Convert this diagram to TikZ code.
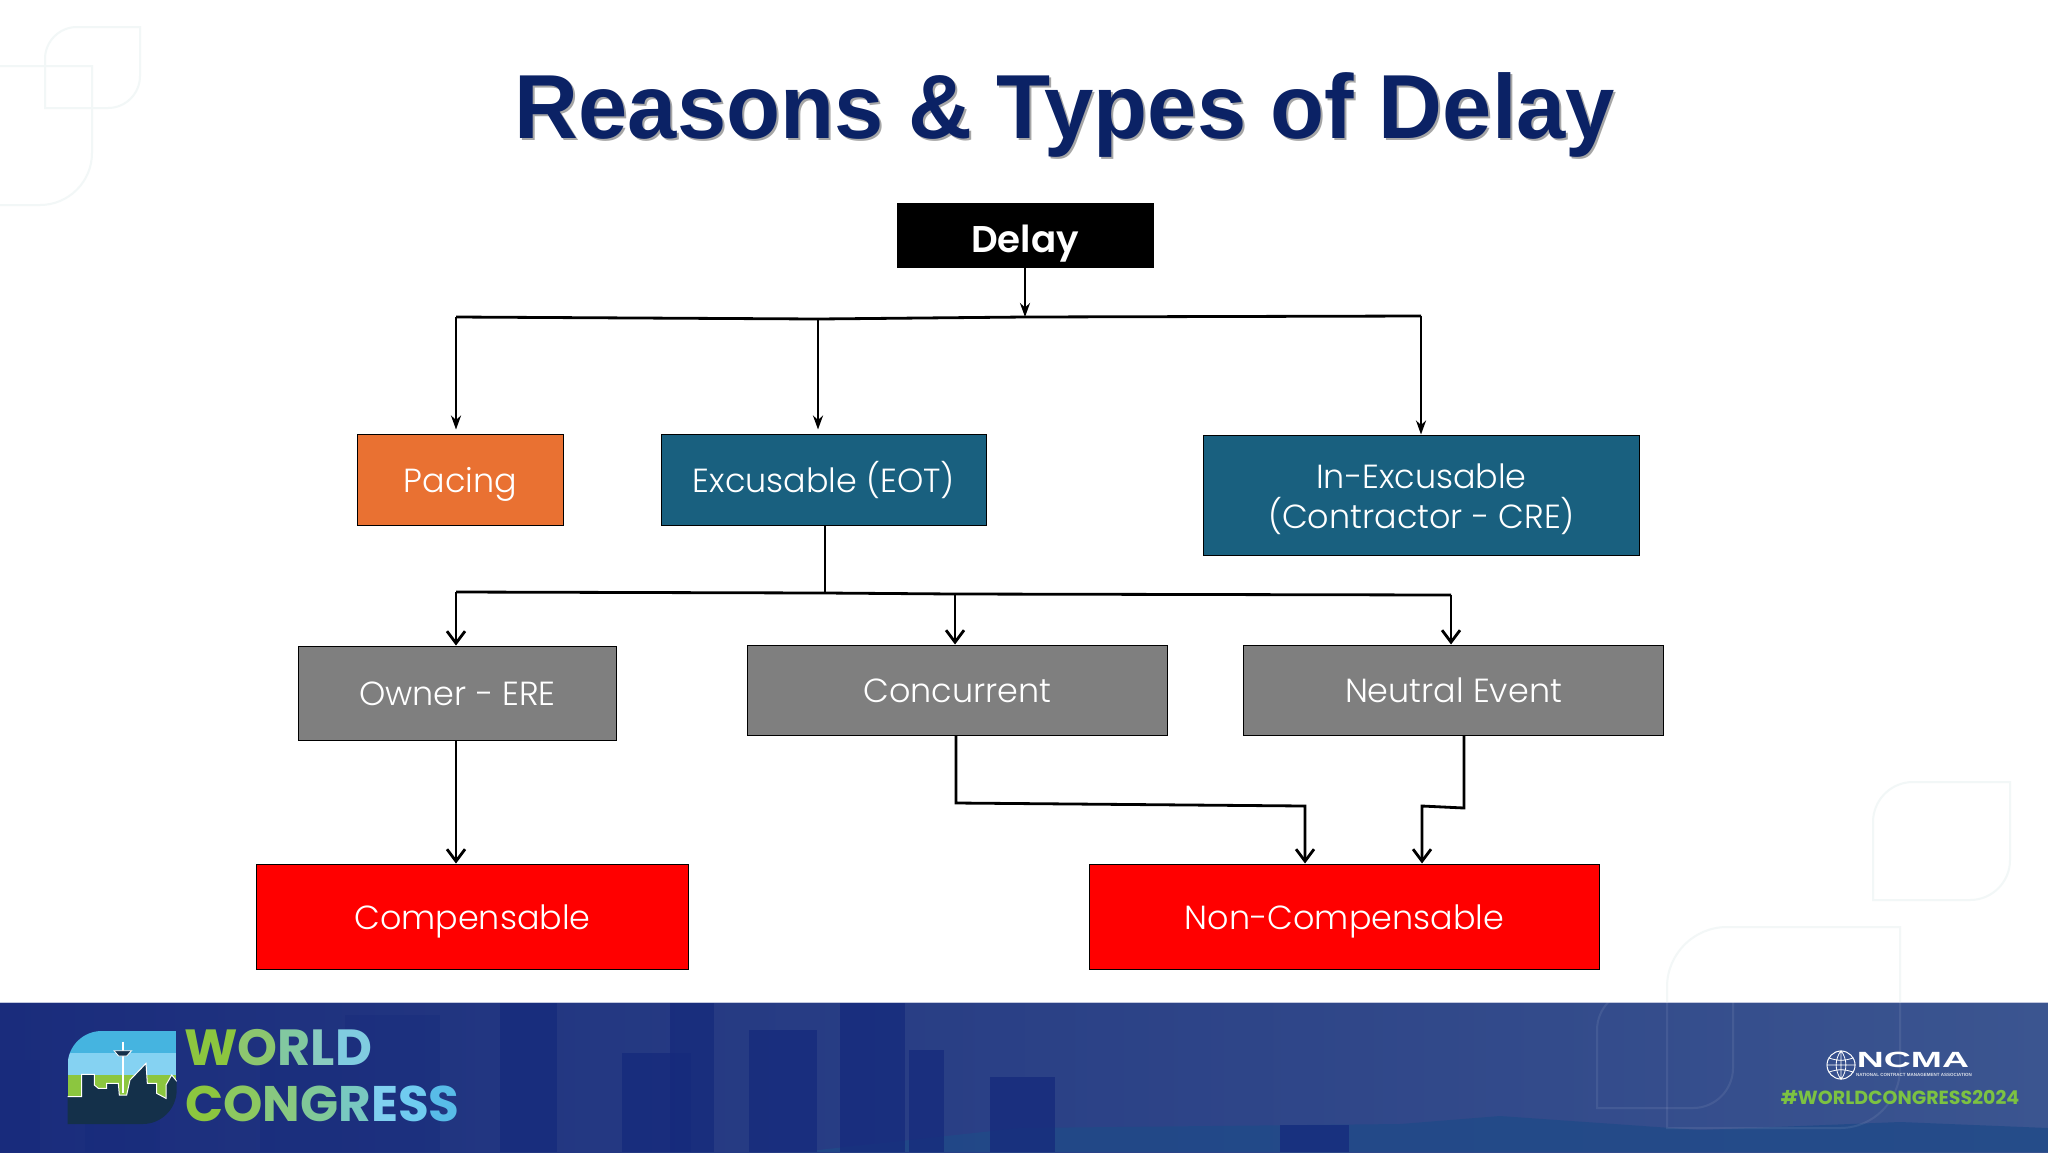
\documentclass[tikz,border=0pt]{standalone}
\usepackage{fontspec}
\usetikzlibrary{arrows.meta}
\setmainfont{Poppins}[UprightFont=* Light,BoldFont=* SemiBold]
\newfontfamily\titlefont{Liberation Sans}[BoldFont=* Bold]
\newfontfamily\logofont{Poppins}[UprightFont=* Bold]
\definecolor{navy}{HTML}{0B2265}
\definecolor{teal}{HTML}{19607F}
\definecolor{pace}{HTML}{E97132}
\definecolor{slate}{HTML}{7F7F7F}
\definecolor{ncmagreen}{HTML}{7CC242}
\definecolor{tower}{HTML}{152A7C}
\definecolor{footl}{HTML}{1A2C7C}
\definecolor{footm}{HTML}{2F4590}
\definecolor{footr}{HTML}{3B5590}
\definecolor{footb}{HTML}{204A88}
\definecolor{leafline}{HTML}{F2F7F7}
\definecolor{skydark}{HTML}{14304A}
\definecolor{skytop}{HTML}{45B4E0}
\definecolor{skylow}{HTML}{85D2F2}
\definecolor{skygreen}{HTML}{8CC63F}
\tikzset{
    box/.style={draw=black,line width=.5pt,text=white,align=center,font=\fontsize{16.7}{20}\selectfont,inner sep=0pt},
    lbl/.style={box,text height=16.5pt,text depth=4pt},
    line/.style={line width=1.4pt,line join=miter},
    tip/.style={line,-{Stealth[length=7pt,width=5pt]},shorten >=2pt},
    barb/.style={line,-{Straight Barb[length=6pt,width=9pt]}}
}
\newcommand{\leaf}[6]{\draw[#6] (#1,#4) [rounded corners=#5] -- (#1,#2) [sharp corners] -- (#3,#2) [rounded corners=#5] -- (#3,#4) [sharp corners] -- (#1,#4) -- cycle;}
\begin{document}
\begin{tikzpicture}[x=.5pt,y=-.5pt]
    \useasboundingbox (0,0) rectangle (2048,1152);
    \fill[white] (0,0) rectangle (2048,1152);
    % faint leaves behind the slide
    \leaf{45}{27}{140}{108}{16pt}{leafline,line width=1pt}
    \leaf{-60}{66}{92}{205}{26pt}{leafline,line width=1pt}
    \leaf{1873}{782}{2010}{900}{20pt}{leafline,line width=1pt}
    \leaf{1667}{927}{1900}{1128}{30pt}{leafline,line width=1pt}
    % footer
    \fill[left color=footl,middle color=footm,right color=footr] (0,1002) rectangle (2048,1152);
    \draw[white!70!footm,line width=.5pt] (0,1002) -- (2048,1002);
    \fill[footb,opacity=.8] (800,1152) -- (1020,1128) -- (1400,1124) -- (1500,1116) -- (1700,1130) -- (1900,1122) -- (2048,1128) -- (2048,1152) -- cycle;
    \foreach \xa/\ya/\xb in {0/1060/40,85/1075/160,260/1060/345,345/1015/440}
        \fill[tower,opacity=.35] (\xa,\ya) rectangle (\xb,1152);
    \foreach \xa/\ya/\xb in {500/1003/557,622/1053/691,670/1003/714,749/1030/817,840/1003/905,909/1050/944,990/1077/1055,1280/1125/1349}
        \fill[tower,opacity=.75] (\xa,\ya) rectangle (\xb,1152);
    \leaf{1597}{990}{1733}{1108}{20pt}{white,opacity=.08,line width=1pt}
    \leaf{1667}{927}{1900}{1128}{30pt}{white,opacity=.08,line width=1pt}
    % logo
    \begin{scope}[shift={(0,980)},x=.16667pt,y=-.16667pt]
        \clip (203,432) [rounded corners=17pt] -- (203,153) [sharp corners] -- (530,153) [rounded corners=17pt] -- (530,432) [sharp corners] -- (203,432) -- cycle;
        \fill[skytop] (203,153) rectangle (530,218);
        \fill[skylow] (203,218) rectangle (530,285);
        \fill[skygreen] (203,285) rectangle (530,352);
        \fill[skydark,draw=white,line width=.5pt] (190,350) -- (245,350) -- (245,283) -- (283,283) -- (283,315) -- (295,325) -- (320,325) -- (320,310) -- (355,310) -- (358,345) -- (380,345) -- (390,300) -- (438,250) -- (442,310) -- (470,310) -- (470,340) -- (498,355) -- (498,315) -- (515,285) -- (540,315) -- (540,440) -- (190,440) -- cycle;
        \draw[white,line width=1pt] (368,185) -- (368,340);
        \fill[skydark,draw=white,line width=.4pt] (342,212) -- (395,212) -- (380,228) -- (356,228) -- cycle;
    \end{scope}
    \node[anchor=west,font=\logofont\fontsize{25.4}{25.4}\selectfont,inner sep=0pt] (world) at (184,1048) {\textcolor[HTML]{8CC63F}{W}\textcolor[HTML]{8CC66F}{O}\textcolor[HTML]{82C8A0}{R}\textcolor[HTML]{8ACCC0}{L}\textcolor[HTML]{80CCE0}{D}};
    \node[anchor=west,font=\logofont\fontsize{25}{25}\selectfont,inner sep=0pt] (congress) at (185,1104) {\textcolor[HTML]{8CC63F}{C}\textcolor[HTML]{8CC860}{O}\textcolor[HTML]{88C880}{N}\textcolor[HTML]{80C898}{G}\textcolor[HTML]{78C8C0}{R}\textcolor[HTML]{80D0F0}{E}\textcolor[HTML]{70CCF0}{S}\textcolor[HTML]{58BCE8}{S}};
    % ncma mark
    \node[circle,draw=white,line width=.5pt,minimum size=14pt,inner sep=0pt] (globe) at (1841,1065) {};
    \draw[white,line width=.4pt] (globe.west) -- (globe.east) (globe.north) -- (globe.south) (globe.north) to[bend left=35] (globe.south) (globe.north) to[bend right=35] (globe.south) (globe.150) to[bend right=20] (globe.30) (globe.210) to[bend left=20] (globe.330);
    \node[xscale=1.7,text=white,font=\titlefont\bfseries\fontsize{11}{11}\selectfont,inner sep=0pt] (ncma) at (1913,1060) {NCMA};
    \node[text=white!85!navy,font=\titlefont\bfseries\fontsize{2.25}{3}\selectfont,inner sep=0pt] (assoc) at (1914,1075) {NATIONAL CONTRACT MANAGEMENT ASSOCIATION};
    \node[text=ncmagreen,font=\logofont\fontsize{9.5}{9.5}\selectfont,inner sep=0pt] (tag) at (1900,1097) {\#WORLDCONGRESS2024};
    % title
    \node[anchor=base,xscale=.973,text=black!35,font=\titlefont\bfseries\fontsize{45.5}{45.5}\selectfont,inner sep=0pt] (shade) at (1067,140) {Reasons \& Types of Delay};
    \node[anchor=base,xscale=.973,text=navy,font=\titlefont\bfseries\fontsize{45.5}{45.5}\selectfont,inner sep=0pt] (title) at (1065,138) {Reasons \& Types of Delay};
    % boxes
    \node[lbl,fill=black,minimum width=128pt,minimum height=32pt,text height=21pt,font=\bfseries\fontsize{18.6}{20}\selectfont] (delay) at (1025,235) {Delay};
    \node[lbl,fill=pace,minimum width=103pt,minimum height=45.5pt] (pacing) at (460.5,479.5) {Pacing};
    \node[lbl,fill=teal,minimum width=162.5pt,minimum height=45.5pt] (exc) at (824,479.5) {Excusable (EOT)};
    \node[box,fill=teal,minimum width=218pt,minimum height=60pt] (inexc) at (1421.5,495) {\rule{0pt}{16.5pt}In-Excusable\\(Contractor - CRE)};
    \node[lbl,fill=slate,minimum width=159pt,minimum height=47pt] (owner) at (457.5,693) {Owner - ERE};
    \node[lbl,fill=slate,minimum width=210pt,minimum height=45pt] (conc) at (957.5,690) {Concurrent};
    \node[lbl,fill=slate,minimum width=210pt,minimum height=45pt] (neut) at (1453.5,690) {Neutral Event};
    \node[lbl,fill=red,minimum width=216pt,minimum height=52.5pt] (comp) at (472.5,916.5) {Compensable};
    \node[lbl,fill=red,minimum width=255pt,minimum height=52.5pt] (noncomp) at (1344.5,916.5) {Non-Compensable};
    % junctions
    \coordinate (a0) at (456,317);
    \coordinate (a1) at (818,319);
    \coordinate (a2) at (1025,317);
    \coordinate (a3) at (1421,316);
    \coordinate (b0) at (456,592);
    \coordinate (b1) at (825,593);
    \coordinate (b2) at (955,594);
    \coordinate (b3) at (1451,595);
    \coordinate (c0) at (956,803);
    \coordinate (c1) at (1305,806);
    \coordinate (d0) at (1464,808);
    \coordinate (d1) at (1422,806);
    % connectors
    \draw[tip,shorten >=0pt] (delay.south -| a2) -- (a2);
    \draw[line] (a0) -- (a1) -- (a2) -- (a3);
    \draw[tip] (a0) -- (a0 |- pacing.north);
    \draw[tip] (a1) -- (a1 |- exc.north);
    \draw[tip,shorten >=0pt] (a3) -- (a3 |- inexc.north);
    \draw[line] (b1 |- exc.south) -- (b1);
    \draw[line] (b0) -- (b1) -- (b2) -- (b3);
    \draw[barb] (b0) -- (b0 |- owner.north);
    \draw[barb] (b2) -- (b2 |- conc.north);
    \draw[barb] (b3) -- (b3 |- neut.north);
    \draw[barb] (b0 |- owner.south) -- (b0 |- comp.north);
    \draw[barb] (c0 |- conc.south) -- (c0) -- (c1) -- (c1 |- noncomp.north);
    \draw[barb] (d0 |- neut.south) -- (d0) -- (d1) -- (d1 |- noncomp.north);
\end{tikzpicture}
\end{document}
